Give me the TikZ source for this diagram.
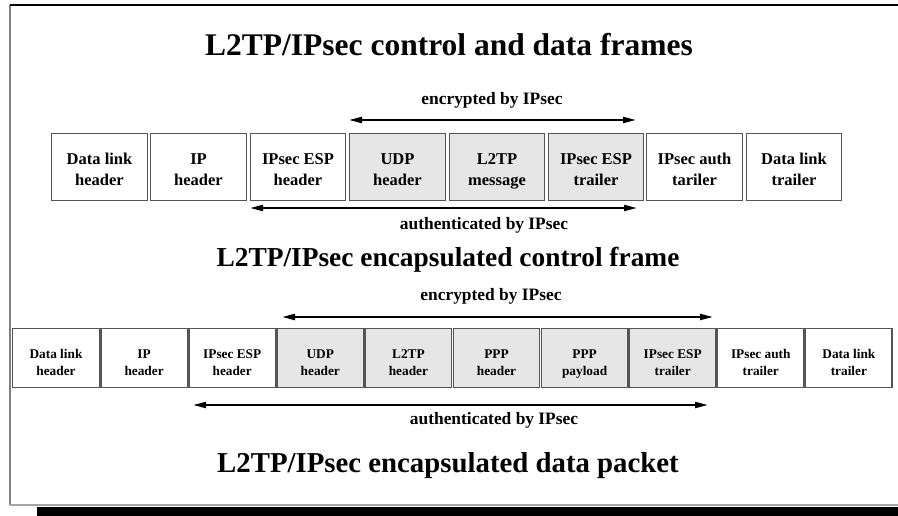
\documentclass[tikz,border=0pt]{standalone}
\usepackage{fontspec}
\setmainfont{Liberation Serif}
\usepackage{tikz}
\usetikzlibrary{arrows.meta}

\definecolor{boxfill}{HTML}{E6E6E6}
\definecolor{boxline}{HTML}{555555}

\begin{document}
\begin{tikzpicture}[x=1pt, y=-1pt,
  field/.style={rectangle, draw=boxline, line width=1.4pt, inner sep=0pt, align=center},
  bigfield/.style={field, minimum width=95.5pt, minimum height=67pt,
    text height=42pt, text depth=4pt, font=\fontsize{16.5}{21}\selectfont\bfseries},
  smallfield/.style={field, minimum width=86.5pt, minimum height=59pt,
    text height=37pt, text depth=3pt, font=\fontsize{13.3}{17}\selectfont\bfseries},
  shaded/.style={fill=boxfill},
  title/.style={font=\fontsize{27.4}{30}\selectfont\bfseries},
  tag/.style={font=\fontsize{17.4}{20}\selectfont\bfseries},
  span/.style={line width=2pt, {Triangle[length=13pt,width=6pt]}-{Triangle[length=13pt,width=6pt]}}]
  \useasboundingbox (0,0) rectangle (898,516);

  % frame with shadow
  \draw[gray, line width=2pt] (9.5,5) -- (9.5,505);
  \draw[line width=1.5pt] (9.5,5) -- (898,5);
  \draw[gray!70, line width=1.2pt] (9.5,505) -- (898,505);
  \fill (37,506.5) rectangle (898,516);

  \node[title, font=\fontsize{31.5}{34}\selectfont\bfseries] (head) at (449,45)
    {L2TP/IPsec control and data frames};

  % Row 1: control frame
  \node[tag] (enc1) at (492,100) {encrypted by IPsec};
  \node[bigfield]         (c1) at ( 99.5,167) {Data link\\header};
  \node[bigfield]         (c2) at (198.5,167) {IP\\header};
  \node[bigfield]         (c3) at (298.0,167) {IPsec ESP\\header};
  \node[bigfield, shaded] (c4) at (397.5,167) {UDP\\header};
  \node[bigfield, shaded] (c5) at (497.0,167) {L2TP\\message};
  \node[bigfield, shaded] (c6) at (596.0,167) {IPsec ESP\\trailer};
  \node[bigfield]         (c7) at (694.5,167) {IPsec auth\\tariler};
  \node[bigfield]         (c8) at (794.0,167) {Data link\\trailer};
  \node[tag] (auth1) at (484,225) {authenticated by IPsec};
  \coordinate (enc1a)  at (349,120);
  \coordinate (enc1b)  at (636,120);
  \coordinate (auth1a) at (250,208);
  \coordinate (auth1b) at (637,208);
  \draw[span] (enc1a) -- (enc1b);
  \draw[span] (auth1a) -- (auth1b);

  \node[title] (ctrl) at (448,260) {L2TP/IPsec encapsulated control frame};

  % Row 2: data packet
  \node[tag] (enc2) at (491,296) {encrypted by IPsec};
  \node[smallfield]         (d1)  at ( 56.0,358) {Data link\\header};
  \node[smallfield]         (d2)  at (144.1,358) {IP\\header};
  \node[smallfield]         (d3)  at (232.2,358) {IPsec ESP\\header};
  \node[smallfield, shaded] (d4)  at (320.3,358) {UDP\\header};
  \node[smallfield, shaded] (d5)  at (408.4,358) {L2TP\\header};
  \node[smallfield, shaded] (d6)  at (496.5,358) {PPP\\header};
  \node[smallfield, shaded] (d7)  at (584.6,358) {PPP\\payload};
  \node[smallfield, shaded] (d8)  at (672.7,358) {IPsec ESP\\trailer};
  \node[smallfield]         (d9)  at (760.8,358) {IPsec auth\\trailer};
  \node[smallfield]         (d10) at (848.9,358) {Data link\\trailer};
  \node[tag] (auth2) at (494,420) {authenticated by IPsec};
  \coordinate (enc2a)  at (282,317);
  \coordinate (enc2b)  at (713,317);
  \coordinate (auth2a) at (193,405);
  \coordinate (auth2b) at (708,405);
  \draw[span] (enc2a) -- (enc2b);
  \draw[span] (auth2a) -- (auth2b);

  \node[title, font=\fontsize{28.8}{31}\selectfont\bfseries] (data) at (448,466)
    {L2TP/IPsec encapsulated data packet};
\end{tikzpicture}
\end{document}
